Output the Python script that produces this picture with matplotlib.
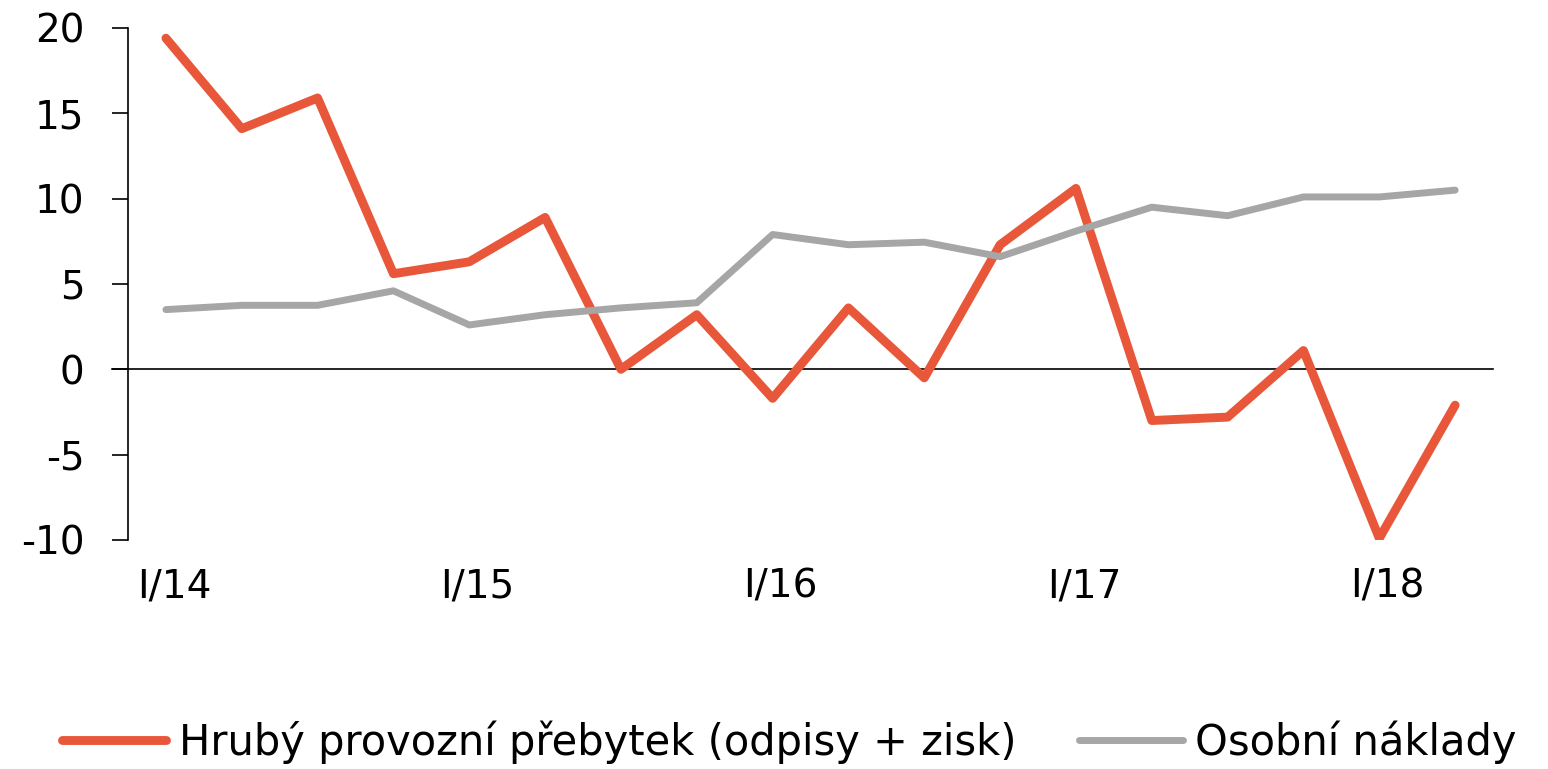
import numpy as np
import matplotlib.pyplot as plt
import matplotlib.transforms as mtransforms

plt.rcParams['font.family'] = ['DejaVu Sans']
plt.rcParams['axes.unicode_minus'] = False

quarters = ['I/14', 'II/14', 'III/14', 'IV/14', 'I/15', 'II/15', 'III/15', 'IV/15',
            'I/16', 'II/16', 'III/16', 'IV/16', 'I/17', 'II/17', 'III/17', 'IV/17',
            'I/18', 'II/18']
hruby = [19.4, 14.1, 15.9, 5.6, 6.3, 8.9, 0.0, 3.2, -1.7, 3.6, -0.5, 7.3,
         10.6, -3.0, -2.8, 1.1, -9.9, -2.1]
osobni = [3.5, 3.75, 3.75, 4.6, 2.6, 3.2, 3.6, 3.9, 7.9, 7.3, 7.45, 6.6,
          8.1, 9.5, 9.0, 10.1, 10.1, 10.5]
label_hruby = 'Hrubý provozní přebytek (odpisy + zisk)'
label_osobni = 'Osobní náklady'

x = np.arange(len(quarters))

fig = plt.figure(figsize=(15.48, 7.69), dpi=100)
ax = fig.add_axes([0.0827, 0.2978, 0.8818, 0.6658])

ax.plot(x, hruby, color='#E8573A', linewidth=6.4, label=label_hruby,
        solid_capstyle='round')
ax.plot(x, osobni, color='#A6A6A6', linewidth=5.0, label=label_osobni,
        solid_capstyle='round')
ax.axhline(0, color='black', linewidth=1.2, zorder=1, xmin=-0.012, clip_on=False)

ax.set_xlim(-0.5, len(quarters) - 0.5)
ax.set_ylim(-10, 20)
ax.set_yticks(np.arange(-10, 21, 5))
ax.set_xticks(x[::4])
ax.set_xticklabels(quarters[::4])

for s in ['top', 'right', 'bottom']:
    ax.spines[s].set_visible(False)
ax.spines['left'].set_linewidth(1.2)
ax.tick_params(axis='y', length=11.5, width=1.2, labelsize=28, pad=20)
ax.tick_params(axis='x', length=0, labelsize=28, pad=20)

shift = mtransforms.ScaledTranslation(8 / 100, 0, fig.dpi_scale_trans)
for lab in ax.get_xticklabels():
    lab.set_transform(lab.get_transform() + shift)

fig.legend(loc='lower center', bbox_to_anchor=(0.51, -0.042), ncol=2, frameon=False,
           fontsize=30, handlelength=2.5, handletextpad=0.3, columnspacing=1.5)

fig.savefig('out.png', dpi=100)
